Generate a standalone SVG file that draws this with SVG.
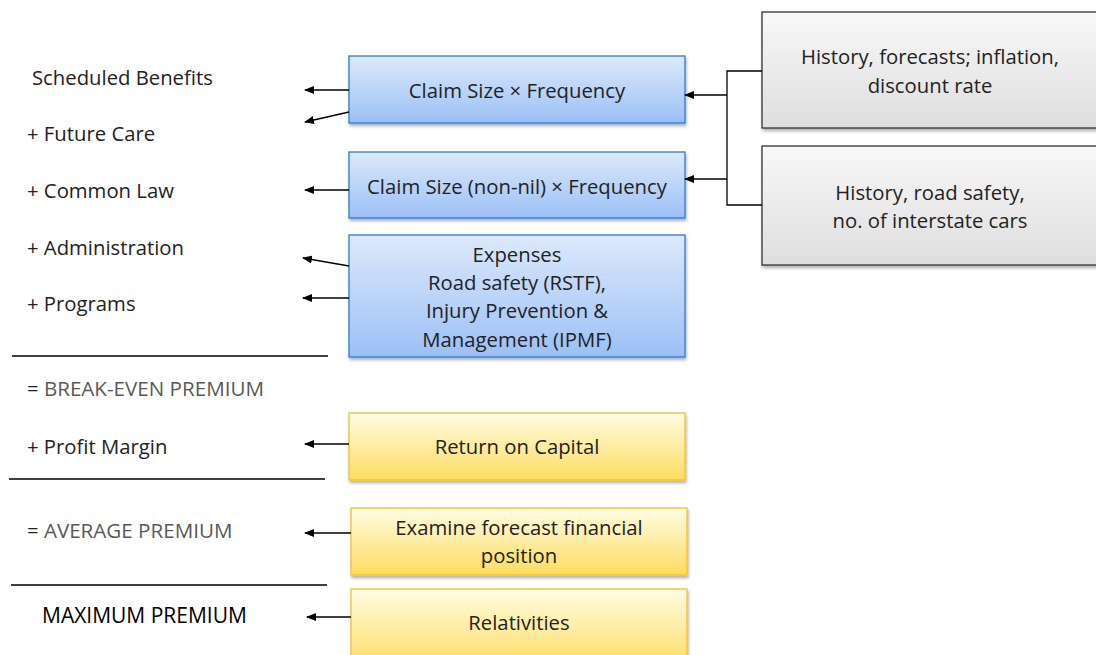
<svg xmlns="http://www.w3.org/2000/svg" width="1096" height="655" viewBox="0 0 1096 655">
<style>
text{font-family:"Open Sans","Liberation Sans",sans-serif;font-size:20.3px;fill:#222}
.c{text-anchor:middle}
.g{fill:#595959;font-size:20.6px}
.k{fill:#000;font-size:21px}
.blue{fill:url(#gb);stroke:#2c7bd6;stroke-width:1.3}
.yel{fill:url(#gy);stroke:#f6c12c;stroke-width:1.3}
.gry{fill:url(#gg);stroke:#333;stroke-width:1.3}
.ln{stroke:#000;stroke-width:1.3;fill:none}
.rule{stroke:#000;stroke-width:1.3}
</style>
<defs>
<linearGradient id="gb" x1="0" y1="0" x2="0" y2="1"><stop offset="0" stop-color="#dde9fb"/><stop offset="1" stop-color="#9bc0f6"/></linearGradient>
<linearGradient id="gy" x1="0" y1="0" x2="0" y2="1"><stop offset="0" stop-color="#fffde3"/><stop offset="1" stop-color="#fddc5e"/></linearGradient>
<linearGradient id="gg" x1="0" y1="0" x2="0" y2="1"><stop offset="0" stop-color="#f8f8f8"/><stop offset="1" stop-color="#dedede"/></linearGradient>
<filter id="sh" x="-5%" y="-10%" width="110%" height="130%"><feDropShadow dx="1" dy="2.5" stdDeviation="1.5" flood-color="#000" flood-opacity="0.3"/></filter>
<marker id="ar" markerWidth="10" markerHeight="8" refX="9" refY="4" orient="auto" markerUnits="userSpaceOnUse"><path d="M0,0 L10,4 L0,8 Z" fill="#000"/></marker>
</defs>

<g id="labels">
<text x="32" y="85">Scheduled Benefits</text>
<text x="27" y="141">+ Future Care</text>
<text x="27" y="198">+ Common Law</text>
<text x="27" y="255">+ Administration</text>
<text x="27" y="311">+ Programs</text>
<text x="27" y="396">= <tspan class="g">BREAK-EVEN PREMIUM</tspan></text>
<text x="27" y="454">+ Profit Margin</text>
<text x="27" y="538">= <tspan class="g">AVERAGE PREMIUM</tspan></text>
<text x="42" y="623" class="k">MAXIMUM PREMIUM</text>
</g>

<g id="rules">
<line class="rule" x1="12" y1="356" x2="328" y2="356"/>
<line class="rule" x1="9" y1="479" x2="325" y2="479"/>
<line class="rule" x1="11" y1="585" x2="327" y2="585"/>
</g>

<g id="n-claim">
<rect class="blue" x="349" y="56" width="336" height="67" filter="url(#sh)"/>
<text class="c" x="517" y="98">Claim Size × Frequency</text>
</g>
<g id="n-claim-nonnil">
<rect class="blue" x="349" y="152" width="336" height="66" filter="url(#sh)"/>
<text class="c" x="517" y="194">Claim Size (non-nil) × Frequency</text>
</g>
<g id="n-expenses">
<rect class="blue" x="349" y="235" width="336" height="122" filter="url(#sh)"/>
<text class="c" x="517" y="262">Expenses</text>
<text class="c" x="517" y="290">Road safety (RSTF),</text>
<text class="c" x="517" y="318">Injury Prevention &amp;</text>
<text class="c" x="517" y="347">Management (IPMF)</text>
</g>
<g id="n-history1">
<rect class="gry" x="762" y="12" width="340" height="116" filter="url(#sh)"/>
<text class="c" x="930" y="64">History, forecasts; inflation,</text>
<text class="c" x="930" y="93">discount rate</text>
</g>
<g id="n-history2">
<rect class="gry" x="762" y="146" width="340" height="119" filter="url(#sh)"/>
<text class="c" x="930" y="200">History, road safety,</text>
<text class="c" x="930" y="228">no. of interstate cars</text>
</g>
<g id="n-return">
<rect class="yel" x="349" y="413" width="336" height="67" filter="url(#sh)"/>
<text class="c" x="517" y="454">Return on Capital</text>
</g>
<g id="n-forecast">
<rect class="yel" x="351" y="508" width="336" height="67" filter="url(#sh)"/>
<text class="c" x="519" y="535">Examine forecast financial</text>
<text class="c" x="519" y="563">position</text>
</g>
<g id="n-relativities">
<rect class="yel" x="351" y="589" width="336" height="80" filter="url(#sh)"/>
<text class="c" x="519" y="630">Relativities</text>
</g>

<g id="connectors">
<polyline class="ln" points="762,71 727,71 727,205 762,205"/>
<line class="ln" x1="727" y1="95" x2="685" y2="95" marker-end="url(#ar)"/>
<line class="ln" x1="727" y1="179" x2="685" y2="179" marker-end="url(#ar)"/>
<line class="ln" x1="349" y1="90" x2="305" y2="90" marker-end="url(#ar)"/>
<line class="ln" x1="349" y1="112" x2="305" y2="122" marker-end="url(#ar)"/>
<line class="ln" x1="349" y1="190" x2="305" y2="190" marker-end="url(#ar)"/>
<line class="ln" x1="349" y1="266" x2="303" y2="258" marker-end="url(#ar)"/>
<line class="ln" x1="349" y1="298" x2="303" y2="298" marker-end="url(#ar)"/>
<line class="ln" x1="349" y1="444" x2="305" y2="444" marker-end="url(#ar)"/>
<line class="ln" x1="351" y1="533" x2="305" y2="533" marker-end="url(#ar)"/>
<line class="ln" x1="351" y1="617" x2="307" y2="617" marker-end="url(#ar)"/>
</g>
</svg>
